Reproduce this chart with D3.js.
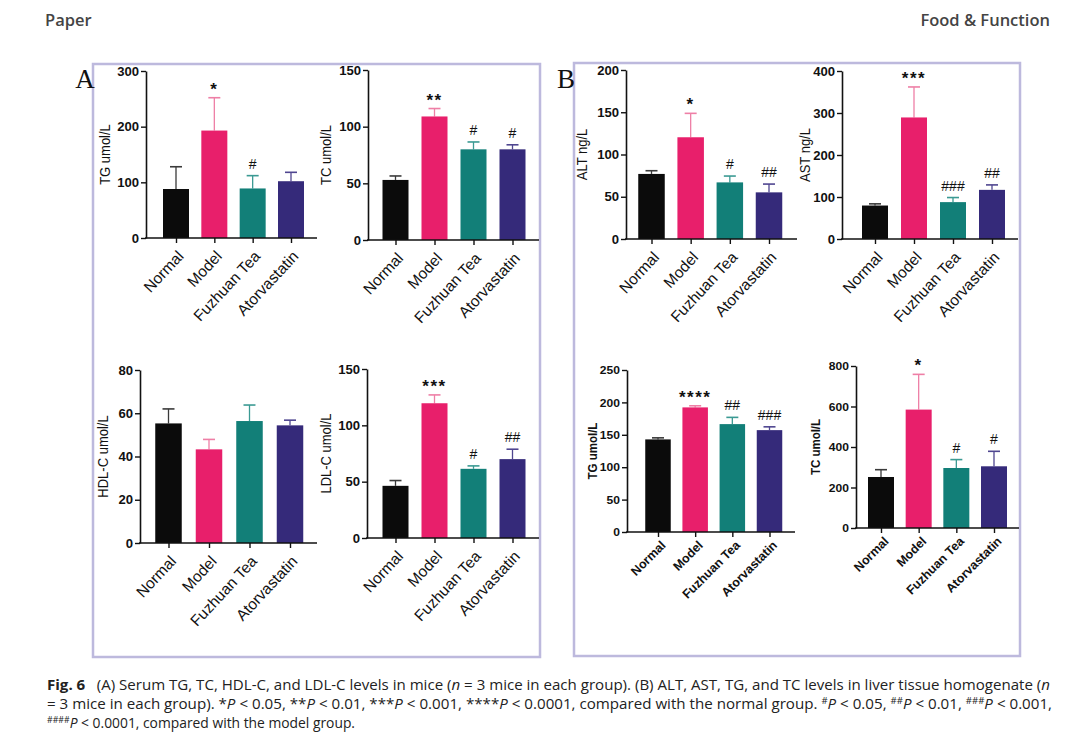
<!DOCTYPE html>
<html><head><meta charset="utf-8">
<script src="https://cdn.jsdelivr.net/npm/d3@7"></script>
<style>
html,body{margin:0;padding:0;background:#fff;}
svg{display:block;}
</style></head>
<body>
<svg id="fig" width="1080" height="746"></svg>
<script>
// ---------------- DATA ----------------
const groups = ["Normal", "Model", "Fuzhuan Tea", "Atorvastatin"];

// Panel A (serum)
const serumTG_mean = [88, 193, 89, 102];
const serumTG_sd   = [40, 59, 23, 16];
const serumTG_sig  = ["", "*", "#", ""];
const serumTG_ticks = [0, 100, 200, 300];

const serumTC_mean = [53, 109, 80, 80];
const serumTC_sd   = [3.5, 7, 6.5, 4];
const serumTC_sig  = ["", "**", "#", "#"];
const serumTC_ticks = [0, 50, 100, 150];

const serumHDL_mean = [55.3, 43.3, 56.4, 54.4];
const serumHDL_sd   = [6.7, 4.6, 7.4, 2.4];
const serumHDL_sig  = ["", "", "", ""];
const serumHDL_ticks = [0, 20, 40, 60, 80];

const serumLDL_mean = [46.3, 119.6, 61.4, 70];
const serumLDL_sd   = [4.7, 7.4, 2.6, 8.8];
const serumLDL_sig  = ["", "***", "#", "##"];
const serumLDL_ticks = [0, 50, 100, 150];

// Panel B (liver)
const liverALT_mean = [77, 120.4, 67, 55.2];
const liverALT_sd   = [3.8, 28.3, 7.5, 9.8];
const liverALT_sig  = ["", "*", "#", "##"];
const liverALT_ticks = [0, 50, 100, 150, 200];

const liverAST_mean = [79.7, 289.4, 87.8, 117];
const liverAST_sd   = [4, 72.6, 10.9, 11.8];
const liverAST_sig  = ["", "***", "###", "##"];
const liverAST_ticks = [0, 100, 200, 300, 400];

const liverTG_mean = [142.9, 192.3, 166.5, 157.2];
const liverTG_sd   = [2.4, 2.5, 10.4, 5.1];
const liverTG_sig  = ["", "****", "##", "###"];
const liverTG_ticks = [0, 50, 100, 150, 200, 250];

const liverTC_mean = [251.9, 584.7, 296.3, 304.7];
const liverTC_sd   = [36, 174, 41.5, 74];
const liverTC_sig  = ["", "*", "#", "#"];
const liverTC_ticks = [0, 200, 400, 600, 800];

// ---------------- STYLE / LAYOUT ----------------
const barColors = ["#0b0b0b", "#e81f6b", "#127f78", "#352a7a"];
const errColors = ["#3a3a3a", "#ee7fa6", "#3b9a93", "#4f4690"];
const FONT = "'Liberation Sans', Arial, Helvetica, sans-serif";

const charts = [
  {mean: serumTG_mean, sd: serumTG_sd, sig: serumTG_sig, ticks: serumTG_ticks, label: "TG umol/L",
   axisX: 146, yTop: 71, y0: 238, xEnd: 317, c0: 176, c3: 291, bw: 26, labelX: 105, bold: false},
  {mean: serumTC_mean, sd: serumTC_sd, sig: serumTC_sig, ticks: serumTC_ticks, label: "TC umol/L",
   axisX: 368, yTop: 70, y0: 240, xEnd: 539, c0: 395.5, c3: 512.5, bw: 26, labelX: 326, bold: false},
  {mean: serumHDL_mean, sd: serumHDL_sd, sig: serumHDL_sig, ticks: serumHDL_ticks, label: "HDL-C umol/L",
   axisX: 140, yTop: 370, y0: 543, xEnd: 317, c0: 168.5, c3: 290, bw: 26.5, labelX: 103, bold: false},
  {mean: serumLDL_mean, sd: serumLDL_sd, sig: serumLDL_sig, ticks: serumLDL_ticks, label: "LDL-C umol/L",
   axisX: 367, yTop: 369, y0: 538, xEnd: 539, c0: 395.5, c3: 512.5, bw: 26, labelX: 326, bold: false},
  {mean: liverALT_mean, sd: liverALT_sd, sig: liverALT_sig, ticks: liverALT_ticks, label: "ALT ng/L",
   axisX: 626, yTop: 70, y0: 239, xEnd: 797, c0: 651.5, c3: 769, bw: 26.5, labelX: 582, bold: false},
  {mean: liverAST_mean, sd: liverAST_sd, sig: liverAST_sig, ticks: liverAST_ticks, label: "AST ng/L",
   axisX: 842, yTop: 71, y0: 239, xEnd: 1018, c0: 875, c3: 992, bw: 26, labelX: 805, bold: false},
  {mean: liverTG_mean, sd: liverTG_sd, sig: liverTG_sig, ticks: liverTG_ticks, label: "TG umol/L",
   axisX: 627, yTop: 370, y0: 532, xEnd: 795, c0: 658, c3: 769.5, bw: 25.5, labelX: 592, bold: true},
  {mean: liverTC_mean, sd: liverTC_sd, sig: liverTC_sig, ticks: liverTC_ticks, label: "TC umol/L",
   axisX: 856, yTop: 366, y0: 528, xEnd: 1019, c0: 881, c3: 994, bw: 26, labelX: 815, bold: true}
];

const svg = d3.select("#fig");

// header
svg.append("text").attr("x", 45).attr("y", 26).text("Paper")
  .attr("font-family", "'Open Sans', 'Noto Sans', sans-serif").attr("font-size", 16.5)
  .attr("font-weight", 600).attr("fill", "#444");
svg.append("text").attr("x", 1050).attr("y", 26).attr("text-anchor", "end").text("Food & Function")
  .attr("font-family", "'Open Sans', 'Noto Sans', sans-serif").attr("font-size", 16.5)
  .attr("font-weight", 600).attr("fill", "#444");

// frames
const frames = [{x: 93, y: 64, w: 447, h: 593, lab: "A", lx: 85}, {x: 574, y: 63, w: 446, h: 593, lab: "B", lx: 566}];
frames.forEach(f => {
  svg.append("rect").attr("x", f.x).attr("y", f.y).attr("width", f.w).attr("height", f.h)
    .attr("fill", "none").attr("stroke", "#bdb9dd").attr("stroke-width", 2.5);
});
frames.forEach(f => {
  svg.append("text").attr("x", f.lx).attr("y", 88).attr("text-anchor", "middle").text(f.lab)
    .attr("font-family", "'Liberation Serif', 'Times New Roman', serif").attr("font-size", 27).attr("fill", "#111");
});

function drawChart(c) {
  const y = d3.scaleLinear().domain([0, d3.max(c.ticks)]).range([c.y0, c.yTop]);
  const x = d3.scalePoint().domain(groups).range([c.c0, c.c3]);
  const g = svg.append("g");
  const data = groups.map((name, i) => ({name, i, mean: c.mean[i], sd: c.sd[i], sig: c.sig[i]}));

  // error bars (upper only)
  g.selectAll("line.err").data(data).join("line")
    .attr("x1", d => x(d.name)).attr("x2", d => x(d.name))
    .attr("y1", d => y(d.mean)).attr("y2", d => y(d.mean + d.sd))
    .attr("stroke", d => errColors[d.i]).attr("stroke-width", 1.3);
  g.selectAll("line.cap").data(data).join("line")
    .attr("x1", d => x(d.name) - 6).attr("x2", d => x(d.name) + 6)
    .attr("y1", d => y(d.mean + d.sd)).attr("y2", d => y(d.mean + d.sd))
    .attr("stroke", d => errColors[d.i]).attr("stroke-width", 1.6);

  // bars
  g.selectAll("rect.bar").data(data).join("rect")
    .attr("x", d => x(d.name) - c.bw / 2).attr("width", c.bw)
    .attr("y", d => y(d.mean)).attr("height", d => y(0) - y(d.mean))
    .attr("fill", d => barColors[d.i]);

  // significance marks
  g.selectAll("text.sig").data(data.filter(d => d.sig)).join("text")
    .attr("x", d => x(d.name)).attr("text-anchor", "middle")
    .attr("y", d => y(d.mean + d.sd) - (d.sig[0] === "*" ? 3 : 7))
    .attr("font-family", FONT)
    .attr("font-size", d => d.sig[0] === "*" ? 17 : 14)
    .attr("font-weight", d => d.sig[0] === "*" ? "bold" : "normal")
    .attr("letter-spacing", d => d.sig[0] === "*" ? 1.5 : 0)
    .attr("fill", "#111")
    .text(d => d.sig);

  // y axis
  const yAxis = d3.axisLeft(y).tickValues(c.ticks).tickSize(5).tickSizeOuter(0).tickPadding(2);
  const ya = g.append("g").attr("transform", `translate(${c.axisX},0)`).call(yAxis);
  ya.select(".domain").attr("stroke", "#111").attr("stroke-width", 1.6);
  ya.selectAll(".tick line").attr("stroke", "#111").attr("stroke-width", 1.4);
  ya.selectAll(".tick text").attr("font-family", FONT).attr("font-size", c.bold ? 11.5 : 12.5)
    .attr("font-weight", "bold").attr("fill", "#111")
    .attr("x", 0).attr("transform", "translate(-7,0) scale(1.05,1)");

  // x axis line
  g.append("line").attr("x1", c.axisX - 1).attr("x2", c.xEnd).attr("y1", c.y0).attr("y2", c.y0)
    .attr("stroke", "#111").attr("stroke-width", 1.6);
  // x ticks + labels
  const xAxis = d3.axisBottom(x).tickSize(5).tickSizeOuter(0);
  const xa = g.append("g").attr("transform", `translate(0,${c.y0})`).call(xAxis);
  xa.select(".domain").remove();
  xa.selectAll(".tick line").attr("stroke", "#111").attr("stroke-width", 1.4);
  xa.selectAll(".tick text")
    .attr("font-family", FONT).attr("font-size", c.bold ? 12.5 : 15.5)
    .attr("font-weight", c.bold ? "bold" : "normal").attr("fill", "#111")
    .attr("text-anchor", "end").attr("dy", null).attr("y", null)
    .attr("transform", c.bold ? "translate(8,14) rotate(-45)" : "translate(8,19) rotate(-47)");

  // y label
  g.append("text")
    .attr("transform", `translate(${c.labelX},${(c.yTop + c.y0) / 2}) scale(1.15,1) rotate(-90)`)
    .attr("text-anchor", "middle").attr("dy", "0.35em")
    .attr("font-family", FONT).attr("font-size", c.bold ? 11.5 : 13)
    .attr("font-weight", c.bold ? "bold" : "normal").attr("fill", "#111")
    .text(c.label);
}
charts.forEach(drawChart);

// caption
const capFont = "'Liberation Sans Narrow', 'Open Sans', 'Noto Sans', sans-serif";
const capLines = [
  {y: 690, len: 1003, parts: [
    {t: "Fig. 6", b: true}, {t: "\u2002 (A) Serum TG, TC, HDL-C, and LDL-C levels in mice ("}, {t: "n", i: true},
    {t: " = 3 mice in each group). (B) ALT, AST, TG, and TC levels in liver tissue homogenate ("}, {t: "n", i: true}]},
  {y: 709, len: 1005, parts: [
    {t: "= 3 mice in each group). *"}, {t: "P", i: true}, {t: " < 0.05, **"}, {t: "P", i: true},
    {t: " < 0.01, ***"}, {t: "P", i: true}, {t: " < 0.001, ****"}, {t: "P", i: true},
    {t: " < 0.0001, compared with the normal group. "}, {t: "#", s: true}, {t: "P", i: true},
    {t: " < 0.05, "}, {t: "##", s: true}, {t: "P", i: true}, {t: " < 0.01, "}, {t: "###", s: true},
    {t: "P", i: true}, {t: " < 0.001,"}]},
  {y: 728, len: 308, parts: [
    {t: "####", s: true}, {t: "P", i: true}, {t: " < 0.0001, compared with the model group."}]}
];
capLines.forEach(L => {
  const t = svg.append("text").attr("x", 47).attr("y", L.y)
    .attr("font-family", capFont).attr("font-size", 15).attr("fill", "#222")
    .attr("textLength", L.len).attr("lengthAdjust", "spacingAndGlyphs");
  L.parts.forEach(p => {
    const ts = t.append("tspan").text(p.t);
    if (p.b) ts.attr("font-weight", "bold");
    if (p.i) ts.attr("font-style", "italic");
    if (p.s) ts.attr("font-size", 9.5).attr("dy", -5);
    if (!p.s && L._sup) ts.attr("dy", 5);
    L._sup = !!p.s;
  });
});
</script>
</body></html>
